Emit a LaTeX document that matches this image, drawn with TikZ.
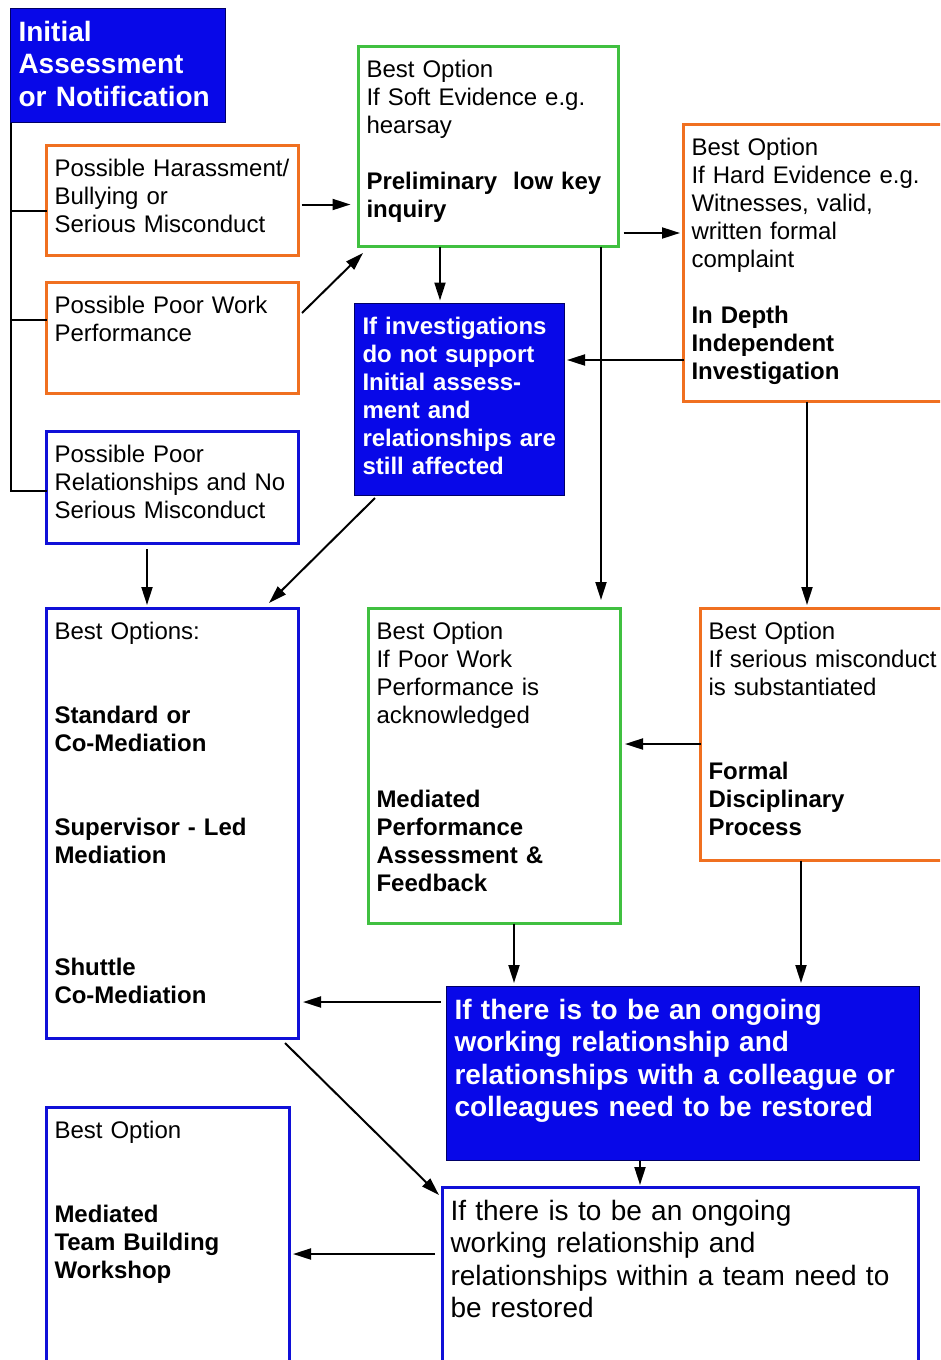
\documentclass[tikz,border=0pt]{standalone}
\usepackage{fontspec}
\setmainfont{Liberation Sans}
\usetikzlibrary{arrows.meta,calc}
\definecolor{mdblue}{RGB}{8,8,232}
\definecolor{mdline}{RGB}{16,16,216}
\definecolor{mdorange}{RGB}{240,112,32}
\definecolor{mdgreen}{RGB}{64,192,64}

\begin{document}
\begin{tikzpicture}[x=1pt,y=-1pt,>={Triangle[length=18pt,width=11pt]}]
    \tikzset{stage/.style={draw,line width=3pt,anchor=north west,outer sep=0pt,inner xsep=8pt,inner ysep=11pt,align=left,text height=19.6pt,font=\fontsize{24}{28}\selectfont},
      bigtext/.style={inner ysep=10pt,text height=22.75pt,font=\fontsize{28}{32.5}\selectfont},
      filledbox/.style={fill=mdblue,draw=black!60!blue,line width=1.5pt,text=white},
      arrow/.style={->,line width=2pt}, link/.style={line width=2pt}}
    \useasboundingbox (0,0) rectangle (940,1360);
    \clip (0,0) rectangle (940,1360);
    % left column
    \node[stage,bigtext,filledbox,text width=199pt,text depth=71.25pt] (init) at (10.5,8.5) {\bfseries Initial\\Assessment\\or Notification};
    \node[stage,draw=mdorange,text width=236pt,text depth=68.4pt] (harass) at (46.5,145.5) {Possible Harassment/\\Bullying or\\Serious Misconduct};
    \node[stage,draw=mdorange,text width=236pt,text depth=69.4pt] (poorwork) at (46.5,282.5) {Possible Poor Work\\Performance};
    \node[stage,draw=mdline,text width=236pt,text depth=70.4pt] (poorrel) at (46.5,431.5) {Possible Poor\\Relationships and No\\Serious Misconduct};
    % investigations
    \node[stage,draw=mdgreen,text width=244pt,text depth=158.4pt] (soft) at (358.5,46.5) {Best Option\\If Soft Evidence e.g.\\hearsay\\[28pt]{\bfseries Preliminary\ \ low key\\inquiry}};
    \node[stage,draw=mdorange,text width=260.5pt,text depth=235.4pt] (hard) at (683.5,124.5) {Best Option\\If Hard Evidence e.g.\\Witnesses, valid,\\written formal\\complaint\\[28pt]{\bfseries In Depth\\Independent\\Investigation}};
    \node[stage,filledbox,text width=194pt,text depth=150.4pt] (notsupport) at (354.5,303.5) {\bfseries If investigations\\do not support\\Initial assess-\\ment and\\relationships are\\still affected};
    % outcomes
    \node[stage,draw=mdline,text width=236pt,text depth=388.4pt] (bestopts) at (46.5,608.5) {Best Options:\\[56pt]{\bfseries Standard or\\Co-Mediation\\[56pt]Supervisor - Led\\Mediation\\[84pt]Shuttle\\Co-Mediation}};
    \node[stage,draw=mdgreen,text width=236pt,text depth=273.4pt] (poorack) at (368.5,608.5) {Best Option\\If Poor Work\\Performance is\\acknowledged\\[56pt]{\bfseries Mediated\\Performance\\Assessment \&\\Feedback}};
    \node[stage,draw=mdorange,text width=243.5pt,text depth=210.4pt] (formal) at (700.5,608.5) {Best Option\\If serious misconduct\\is substantiated\\[56pt]{\bfseries Formal\\Disciplinary\\Process}};
    \node[stage,bigtext,filledbox,text width=457pt,text depth=131.25pt] (ongoingcol) at (446.5,986.5) {\bfseries If there is to be an ongoing\\working relationship and\\relationships with a colleague or\\colleagues need to be restored};
    \node[stage,bigtext,draw=mdline,text width=460pt,text depth=139.75pt] (team) at (442.5,1187.5) {If there is to be an ongoing\\working relationship and\\relationships within a team need to\\be restored};
    \node[stage,draw=mdline,text width=227pt,text depth=220.9pt] (teambuild) at (46.5,1107.5) {Best Option\\[56pt]{\bfseries Mediated\\Team Building\\Workshop}};
    % bracket
    \draw[link] (init.south west) |- ([yshift=-3.5pt]poorrel.west);
    \draw[link] ([yshift=-10.5pt]harass.west) -- ([yshift=-10.5pt]harass.west -| init.south west);
    \draw[link] ([yshift=18pt]poorwork.west) -- ([yshift=18pt]poorwork.west -| init.south west);
    % connectors
    \draw[arrow,shorten <=3pt,shorten >=8pt] ([yshift=-4pt]harass.east) -- ([yshift=-4pt]harass.east -| soft.west);
    \draw[arrow] ($(poorwork.north east)+(3.5,30.5)$) -- ($(soft.south west)+(4.5,6.5)$);
    \draw[arrow,shorten >=3pt] ([xshift=81.5pt]soft.south west) -- ([xshift=81.5pt]soft.south west |- notsupport.north);
    \draw[arrow,shorten <=5pt,shorten >=3.5pt] ([yshift=-86.5pt]soft.east) -- ([yshift=-86.5pt]soft.east -| hard.west);
    \draw[arrow,shorten >=8.5pt] ([xshift=-17.5pt]soft.south east) -- ([xshift=-17.5pt]soft.south east |- poorack.north);
    \draw[arrow,shorten >=2.5pt] ([yshift=-97pt]hard.west) -- ([yshift=-97pt]hard.west -| notsupport.east);
    \draw[arrow] ($(notsupport.south west)+(20.5,2.5)$) -- ($(bestopts.north east)+(-29.5,-5.5)$);
    \draw[arrow,shorten <=5.5pt,shorten >=3.5pt] ([xshift=-25.5pt]poorrel.south) -- ([xshift=-25.5pt]poorrel.south |- bestopts.north);
    \draw[arrow,shorten >=3.5pt] ([xshift=123.5pt]hard.south west) -- ([xshift=123.5pt]hard.south west |- formal.north);
    \draw[arrow,shorten >=4.5pt] ([yshift=-9.5pt]formal.west) -- ([yshift=-9.5pt]formal.west -| poorack.east);
    \draw[arrow,shorten >=3.5pt] ([xshift=145.5pt]poorack.south west) -- ([xshift=145.5pt]poorack.south west |- ongoingcol.north);
    \draw[arrow,shorten >=3.5pt] ([xshift=100.5pt]formal.south west) -- ([xshift=100.5pt]formal.south west |- ongoingcol.north);
    \draw[arrow,shorten <=6pt,shorten >=4.5pt] ([yshift=-15.5pt]ongoingcol.north west) -- ([yshift=-15.5pt]ongoingcol.north west -| bestopts.east);
    \draw[arrow] ($(bestopts.south east)+(-13.5,4.5)$) -- ($(team.north west)+(-3.5,7.5)$);
    \draw[arrow,shorten >=2.5pt] ([xshift=193.5pt]ongoingcol.south west) -- ([xshift=193.5pt]ongoingcol.south west |- team.north);
    \draw[arrow,shorten <=7.5pt,shorten >=3.5pt] ([yshift=-66.5pt]team.north west) -- ([yshift=-66.5pt]team.north west -| teambuild.east);
\end{tikzpicture}
\end{document}
